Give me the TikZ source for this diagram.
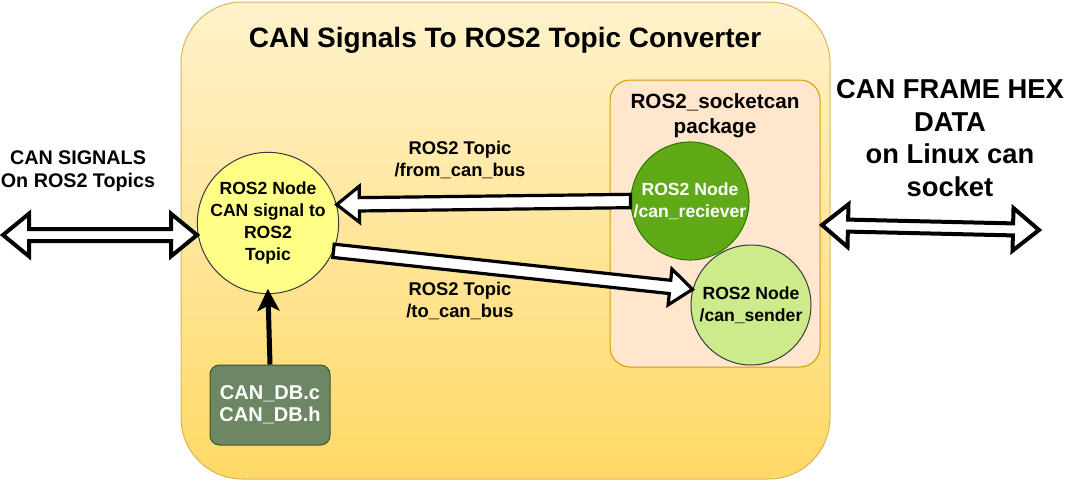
\documentclass[tikz,border=0pt]{standalone}
\usepackage{fontspec}
\setmainfont{Liberation Sans}
\usetikzlibrary{arrows.meta,calc}

\definecolor{convtop}{HTML}{FFF2CC}
\definecolor{convbot}{HTML}{FFD966}
\definecolor{convline}{HTML}{D6B656}
\definecolor{pkgfill}{HTML}{FFE6CC}
\definecolor{pkgline}{HTML}{D79B00}
\definecolor{nodeyellow}{HTML}{FFFF88}
\definecolor{nodegreen}{HTML}{60A917}
\definecolor{nodegreenline}{HTML}{2D7600}
\definecolor{nodelight}{HTML}{CDEB8B}
\definecolor{greyline}{HTML}{36393D}
\definecolor{dbfill}{HTML}{6D8764}
\definecolor{dbline}{HTML}{3A5431}

\tikzset{
  rosnode/.style={circle, draw=greyline, line width=0.75pt, inner sep=0pt},
  % hollow block arrow, head at the target end
  flexarrow/.style={draw=black, fill=white, line width=2.4pt, line join=miter, to path={
    let \p1=(\tikztostart), \p2=(\tikztotarget), \p3=($(\p2)!17pt!(\p1)$) in
    ($(\p1)!5pt!90:(\p2)$) -- ($(\p3)!5pt!90:(\p2)$) -- ($(\p3)!13.5pt!90:(\p2)$) -- (\p2)
    -- ($(\p3)!13.5pt!-90:(\p2)$) -- ($(\p3)!5pt!-90:(\p2)$) -- ($(\p1)!5pt!-90:(\p2)$) -- cycle}},
  % hollow block arrow, heads at both ends
  dblarrow/.style={draw=black, fill=white, line width=3pt, line join=miter, to path={
    let \p1=(\tikztostart), \p2=(\tikztotarget), \p3=($(\p1)!19.5pt!(\p2)$), \p4=($(\p2)!19.5pt!(\p1)$) in
    (\p1) -- ($(\p3)!16pt!90:(\p2)$) -- ($(\p3)!4.5pt!90:(\p2)$) -- ($(\p4)!4.5pt!90:(\p2)$)
    -- ($(\p4)!16pt!90:(\p2)$) -- (\p2) -- ($(\p4)!16pt!-90:(\p2)$) -- ($(\p4)!4.5pt!-90:(\p2)$)
    -- ($(\p3)!4.5pt!-90:(\p2)$) -- ($(\p3)!16pt!-90:(\p2)$) -- cycle}},
}

\begin{document}
\begin{tikzpicture}[x=0.75pt, y=-0.75pt, every node/.style={font=\bfseries\fontsize{13.2}{16.3}\selectfont, align=center}]
 \useasboundingbox (0,0) rectangle (1072,482);
 %Boxes
	\node[draw=convline, line width=0.75pt, top color=convtop, bottom color=convbot, rounded corners=46pt, minimum width=486.75pt, minimum height=357.75pt] (conv) at (505.5,240.5) {};
	\node[font=\bfseries\fontsize{21}{24.5}\selectfont] (title) at (505,40) {CAN Signals To ROS2 Topic Converter};
	\node[draw=pkgline, line width=0.75pt, fill=pkgfill, rounded corners=15pt, minimum width=157.5pt, minimum height=215.25pt] (pkg) at (715,223.5) {};
	\node[font=\bfseries\fontsize{15.5}{18.8}\selectfont] (pkgname) at (715,116) {ROS2\_socketcan\\package};
 %Nodes
	\node[rosnode, fill=nodeyellow, minimum size=100.5pt] (ros) at (268,223) {ROS2 Node\\CAN signal to\\ROS2\\Topic};
	\node[rosnode, draw=nodegreenline, fill=nodegreen, text=white, minimum size=88.5pt] (recv) at (690,201) {ROS2 Node\\/can\_reciever};
	\node[rosnode, fill=nodelight, minimum size=90pt] (send) at (751,305) {ROS2 Node\\/can\_sender};
	\node[draw=dbline, line width=0.75pt, fill=dbfill, text=white, rounded corners=7pt, minimum width=90pt, minimum height=60pt, font=\bfseries\fontsize{15}{16.3}\selectfont] (db) at (270,405) {CAN\_DB.c\\CAN\_DB.h};
 %Labels
	\node[font=\bfseries\fontsize{13.8}{16.3}\selectfont] (fromlbl) at (460,160) {ROS2 Topic\\/from\_can\_bus};
	\node[font=\bfseries\fontsize{13.8}{16.3}\selectfont] (tolbl) at (460,301) {ROS2 Topic\\/to\_can\_bus};
	\node[font=\bfseries\fontsize{14.8}{17.3}\selectfont] (siglbl) at (78,171) {CAN SIGNALS\\On ROS2 Topics};
	\node[font=\bfseries\fontsize{20.5}{24.5}\selectfont] (hexlbl) at (950,138) {CAN FRAME HEX\\DATA\\on Linux can\\socket};
	\coordinate (sig-l) at (3,235);
	\coordinate (sig-r) at (197,235);
	\coordinate (hex-l) at (822,225);
	\coordinate (hex-r) at (1039,230);
 % Arrows
	\draw[flexarrow] (recv.west) to (ros.15);
	\draw[flexarrow] (ros.-23) to (send.165);
	\draw[dblarrow] (sig-l) to (sig-r);
	\draw[dblarrow] (hex-l) to (hex-r);
	\draw[line width=3.75pt, -{Stealth[length=16.5pt, width=16.5pt, inset=4pt]}, shorten >=-4pt] (db.north) -- (ros.south);
\end{tikzpicture}
\end{document}
